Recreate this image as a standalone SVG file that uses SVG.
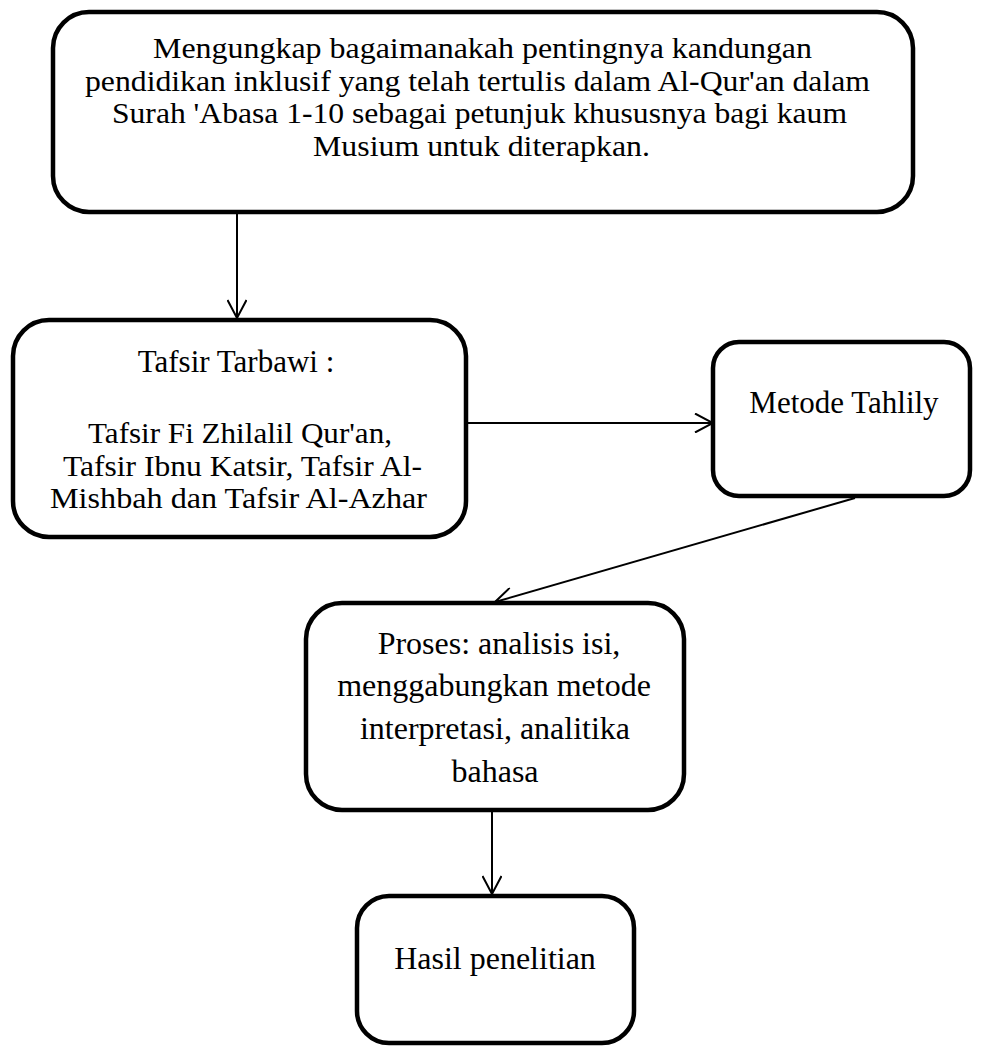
<svg xmlns="http://www.w3.org/2000/svg" width="986" height="1046" viewBox="0 0 986 1046">
<style>
.box{fill:#fff;stroke:#000;stroke-width:4.5}
.t{font-family:"Liberation Serif","Times New Roman",serif;font-size:32px;fill:#000;text-anchor:middle}
.s{font-size:29px}
.c{fill:none;stroke:#000;stroke-width:2}
</style>
<defs>
<marker id="arr" viewBox="0 0 20 20" refX="19" refY="10" markerWidth="20" markerHeight="20" markerUnits="userSpaceOnUse" orient="auto">
<path d="M1,0.5 L19,10 L1,19.5" fill="none" stroke="#000" stroke-width="2"/>
</marker>
</defs>
<rect width="986" height="1046" fill="#fff"/>
<g id="connectors">
<line class="c" x1="237" y1="214" x2="237" y2="318" marker-end="url(#arr)"/>
<line class="c" x1="468" y1="423" x2="713" y2="423" marker-end="url(#arr)"/>
<line class="c" x1="855" y1="498" x2="495" y2="602" marker-end="url(#arr)"/>
<line class="c" x1="492" y1="812" x2="492" y2="894" marker-end="url(#arr)"/>
</g>
<g id="node-goal">
<rect class="box" x="53" y="12" width="860" height="200" rx="36"/>
<text class="t s" x="482.5" y="58" textLength="659" lengthAdjust="spacingAndGlyphs">Mengungkap bagaimanakah pentingnya kandungan</text>
<text class="t s" x="477.5" y="90.5" textLength="785" lengthAdjust="spacingAndGlyphs">pendidikan inklusif yang telah tertulis dalam Al-Qur'an dalam</text>
<text class="t s" x="479.5" y="123" textLength="735" lengthAdjust="spacingAndGlyphs">Surah 'Abasa 1-10 sebagai petunjuk khususnya bagi kaum</text>
<text class="t s" x="481.5" y="155.5" textLength="337" lengthAdjust="spacingAndGlyphs">Musium untuk diterapkan.</text>
</g>
<g id="node-tafsir">
<rect class="box" x="13" y="320" width="453" height="217" rx="36"/>
<text class="t" x="236" y="372" style="font-size:31px">Tafsir Tarbawi :</text>
<text class="t s" x="240" y="443" textLength="304" lengthAdjust="spacingAndGlyphs">Tafsir Fi Zhilalil Qur'an,</text>
<text class="t s" x="242.5" y="475.5" textLength="359" lengthAdjust="spacingAndGlyphs">Tafsir Ibnu Katsir, Tafsir Al-</text>
<text class="t s" x="238.5" y="508" textLength="377" lengthAdjust="spacingAndGlyphs">Mishbah dan Tafsir Al-Azhar</text>
</g>
<g id="node-metode">
<rect class="box" x="713" y="342" width="257" height="154" rx="26"/>
<text class="t" x="844" y="413" style="font-size:31px">Metode Tahlily</text>
</g>
<g id="node-proses">
<rect class="box" x="306" y="603" width="378" height="207" rx="36"/>
<text class="t" x="499" y="654">Proses: analisis isi,</text>
<text class="t" x="494" y="696">menggabungkan metode</text>
<text class="t" x="495" y="739">interpretasi, analitika</text>
<text class="t" x="495" y="782">bahasa</text>
</g>
<g id="node-hasil">
<rect class="box" x="357" y="896" width="277" height="147" rx="32"/>
<text class="t" x="495" y="969">Hasil penelitian</text>
</g>
</svg>
